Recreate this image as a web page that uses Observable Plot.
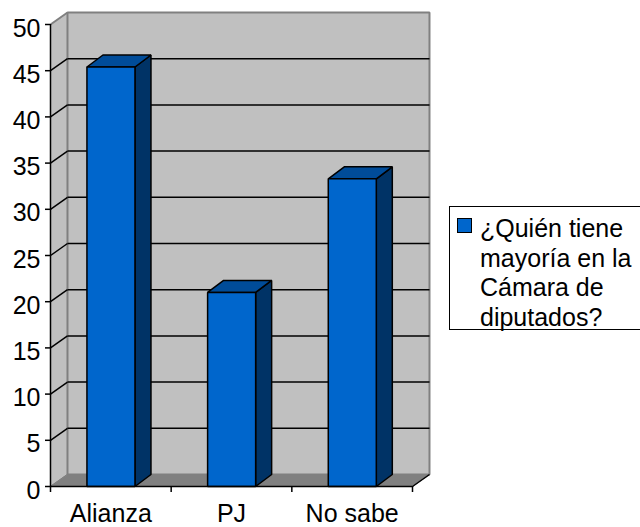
<!DOCTYPE html>
<html><head><meta charset="utf-8">
<script src="https://cdn.jsdelivr.net/npm/d3@7"></script>
<script src="https://cdn.jsdelivr.net/npm/@observablehq/plot@0.6"></script>
<style>
html,body{margin:0;padding:0;background:#fff}
#wrap{position:relative;width:640px;height:527px;overflow:hidden}
#wrap svg{position:absolute;left:0;top:0}
#legend{position:absolute;left:449px;top:206px;width:200px;height:124px;box-sizing:border-box;border:1.5px solid #000;background:#fff;font:25px/29.6px "Liberation Sans",Arial,sans-serif;color:#000;padding:7px 0 0 30px}
#legend i{position:absolute;left:7px;top:11px;width:13px;height:13px;background:#0066cc;border:1.5px solid #000;box-sizing:content-box}
</style></head><body><div id="wrap"><div id="legend"><i></i><span id="legendText"></span></div></div>
<script>
const categories = ["Alianza","PJ","No sabe"];
const values = [45.4, 21, 33.3];
const yTicks = [0,5,10,15,20,25,30,35,40,45,50];
const legendLines = ["¿Quién tiene","mayoría en la","Cámara de","diputados?"];

const depthX = 0.1408, depthY = 1.3;    // 3D depth, in data units
const barDepthX = 0.1326;
const barFrom = 0.302, barTo = 0.700;   // bar extent within a category band
const n = categories.length;

const poly = (id, pts) => pts.map(([x,y]) => ({id, x, y}));
const wall  = poly("wall", [[0,0],[depthX,depthY],[depthX,50+depthY],[0,50]]);
const back  = poly("back", [[depthX,depthY],[n+depthX,depthY],[n+depthX,50+depthY],[depthX,50+depthY]]);
const floor = poly("floor", [[0,0],[n,0],[n+depthX,depthY],[depthX,depthY]]);

const fronts=[], sides=[], tops=[];
values.forEach((v,i)=>{
  const a=i+barFrom, b=i+barTo;
  fronts.push(...poly(i,[[a,0],[b,0],[b,v],[a,v]]));
  sides.push(...poly(i,[[b,0],[b+barDepthX,depthY],[b+barDepthX,v+depthY],[b,v]]));
  tops.push(...poly(i,[[a,v],[b,v],[b+barDepthX,v+depthY],[a+barDepthX,v+depthY]]));
});
const closed = (data, fill, stroke, sw) => Plot.line(data,{x:"x",y:"y",z:"id",curve:"linear-closed",fill,stroke,strokeWidth:sw,strokeLinejoin:"miter"});

const gridBack = yTicks.filter(t=>t>0 && t<50);

const plot = Plot.plot({
  width:640,height:527,
  marginLeft:50,marginRight:228,marginTop:24,marginBottom:41,
  style:{background:"transparent",fontFamily:"'Liberation Sans',Arial,sans-serif",overflow:"visible"},
  x:{type:"linear",domain:[0,n],axis:null},
  y:{type:"linear",domain:[0,50],axis:null},
  marks:[
    closed(wall,"#c0c0c0","none",0),
    closed(back,"#c0c0c0","#808080",2),
    closed(floor,"#808080","#808080",1),
    Plot.link(gridBack,{x1:0,y1:d=>d,x2:depthX,y2:d=>d+depthY,stroke:"#000",strokeWidth:1.5}),
    Plot.link(gridBack,{x1:depthX,y1:d=>d+depthY,x2:n+depthX,y2:d=>d+depthY,stroke:"#000",strokeWidth:1.5}),
    Plot.link([50],{x1:0,y1:d=>d,x2:depthX,y2:d=>d+depthY,stroke:"#808080",strokeWidth:2}),
    Plot.link([0],{x1:0,y1:d=>d,x2:depthX,y2:d=>d+depthY,stroke:"#808080",strokeWidth:1}),
    closed(sides,"#003366","#000",1.5),
    closed(tops,"#004c99","#000",1.5),
    closed(fronts,"#0066cc","#000",1.5),
    Plot.link([n],{x1:d=>d,y1:0,x2:d=>d+depthX,y2:depthY,stroke:"#000",strokeWidth:1.5}),
    Plot.ruleX([0],{y1:0,y2:50,stroke:"#000",strokeWidth:1.5}),
    Plot.ruleY([0],{x1:0,x2:n,stroke:"#000",strokeWidth:1.5}),
    Plot.axisY({ticks:yTicks,tickSize:5,tickFormat:()=>"",label:null,stroke:"#000",strokeWidth:1.5,anchor:"left",marginLeft:50}),
    Plot.text(yTicks,{x:0,y:d=>d,text:d=>String(d),dx:-10,dy:4,textAnchor:"end",fontSize:25,fill:"#000"}),
    Plot.axisX({ticks:d3.range(n+1),tickSize:6,tickFormat:()=>"",label:null,stroke:"#000",strokeWidth:1.5,anchor:"bottom"}),
    Plot.text(categories,{x:(d,i)=>i+0.5,y:0,text:d=>d,dy:27.5,fontSize:25,fill:"#000"})
  ]
});
document.getElementById("wrap").prepend(plot);
document.getElementById("legendText").innerHTML = legendLines.join("<br>");
</script></body></html>
